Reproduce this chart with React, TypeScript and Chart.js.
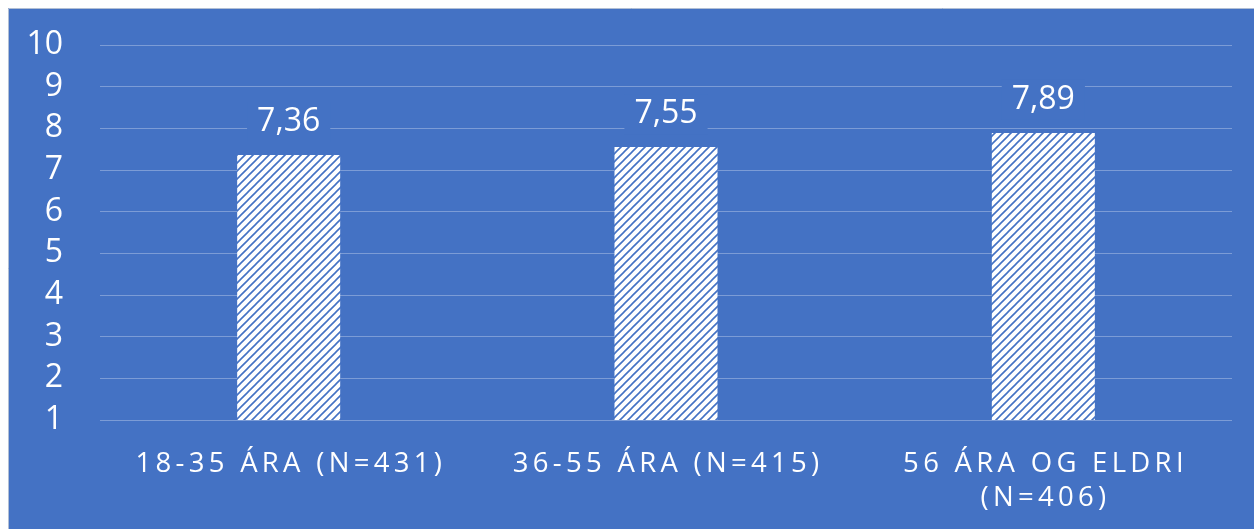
import React, { useEffect, useRef } from "react";
import { Chart, registerables } from "chart.js";

Chart.register(...registerables);

const categories: string[][] = [
  ["18-35 ÁRA (N=431)"],
  ["36-55 ÁRA (N=415)"],
  ["56 ÁRA OG ELDRI", "(N=406)"],
];
const values: number[] = [7.36, 7.55, 7.89];
const valueLabels: string[] = ["7,36", "7,55", "7,89"];
const yMin = 1;
const yMax = 10;

const BG = "#4472C4";
const FONT = "'Open Sans', 'Noto Sans', sans-serif";

function makePattern(ctx: CanvasRenderingContext2D): CanvasPattern | string {
  const c = document.createElement("canvas");
  c.width = 8;
  c.height = 8;
  const g = c.getContext("2d");
  if (!g) return "#fff";
  g.fillStyle = "#ffffff";
  g.fillRect(0, 0, 8, 8);
  g.strokeStyle = BG;
  g.lineWidth = 1.6;
  g.beginPath();
  g.moveTo(-1, 9);
  g.lineTo(9, -1);
  g.moveTo(-1, 1);
  g.lineTo(1, -1);
  g.moveTo(7, 9);
  g.lineTo(9, 7);
  g.stroke();
  return ctx.createPattern(c, "repeat") || "#fff";
}

const bgPlugin = {
  id: "bgPlugin",
  beforeDraw(chart: any) {
    const { ctx, width, height } = chart;
    ctx.save();
    ctx.fillStyle = BG;
    ctx.fillRect(0, 0, width, height);
    ctx.strokeStyle = "rgba(190,200,215,0.9)";
    ctx.lineWidth = 1;
    ctx.beginPath();
    ctx.moveTo(0.5, height);
    ctx.lineTo(0.5, 0.5);
    ctx.lineTo(width, 0.5);
    ctx.stroke();
    ctx.restore();
  },
};

const labelPlugin = {
  id: "labelPlugin",
  afterDatasetsDraw(chart: any) {
    const { ctx } = chart;
    const meta = chart.getDatasetMeta(0);
    ctx.save();
    ctx.font = `32px ${FONT}`;
    ctx.textBaseline = "middle";
    ctx.textAlign = "center";
    meta.data.forEach((bar: any, i: number) => {
      const y = bar.y - 33;
      const w = ctx.measureText(valueLabels[i]).width;
      ctx.fillStyle = BG;
      ctx.fillRect(bar.x - w / 2 - 10, y - 20, w + 20, 40);
      ctx.fillStyle = "#ffffff";
      ctx.fillText(valueLabels[i], bar.x, y);
    });
    // x category labels with letter spacing
    const xScale = chart.scales.x;
    const ls = 4.3;
    ctx.font = `27.5px ${FONT}`;
    ctx.textAlign = "left";
    (ctx as any).letterSpacing = `${ls}px`;
    ctx.fillStyle = "#ffffff";
    categories.forEach((lines, i) => {
      const cx = xScale.getPixelForValue(i);
      lines.forEach((line, j) => {
        const w = ctx.measureText(line).width;
        ctx.fillText(line, cx - (w - ls) / 2, 456 + j * 34);
      });
    });
    (ctx as any).letterSpacing = "0px";
    ctx.restore();
  },
};

export default function App() {
  const ref = useRef<HTMLCanvasElement | null>(null);

  useEffect(() => {
    const canvas = ref.current;
    if (!canvas) return;
    const ctx = canvas.getContext("2d");
    if (!ctx) return;
    const pattern = makePattern(ctx);
    const chart = new Chart(canvas, {
      type: "bar",
      data: {
        labels: categories.map((c) => c.join(" ")),
        datasets: [
          {
            data: values,
            backgroundColor: pattern as any,
            borderWidth: 0,
            barPercentage: 0.273,
            categoryPercentage: 1,
          },
        ],
      },
      options: {
        animation: false,
        responsive: false,
        layout: { padding: { top: 37, right: 22, left: 0, bottom: 0 } },
        plugins: {
          legend: { display: false },
          tooltip: { enabled: false },
          title: { display: false },
        },
        scales: {
          x: {
            ticks: { display: false },
            grid: { display: false },
            border: { display: false },
            afterFit(scale: any) {
              scale.height = 109;
            },
          },
          y: {
            min: yMin,
            max: yMax,
            ticks: {
              stepSize: 1,
              autoSkip: false,
              color: "#ffffff",
              font: { size: 32, family: FONT },
              padding: 0,
            },
            grid: {
              color: "rgba(255,255,255,0.3)",
              lineWidth: 1,
              drawTicks: true,
              tickLength: 37,
              tickColor: "rgba(0,0,0,0)",
            },
            border: { display: false },
            afterFit(scale: any) {
              scale.width = 92;
            },
          },
        },
      },
      plugins: [bgPlugin, labelPlugin],
    });
    return () => chart.destroy();
  }, []);

  return (
    <div style={{ position: "fixed", left: 8, top: 8, width: 1246, height: 521 }}>
      <canvas ref={ref} width={1246} height={521} style={{ display: "block" }} />
    </div>
  );
}
